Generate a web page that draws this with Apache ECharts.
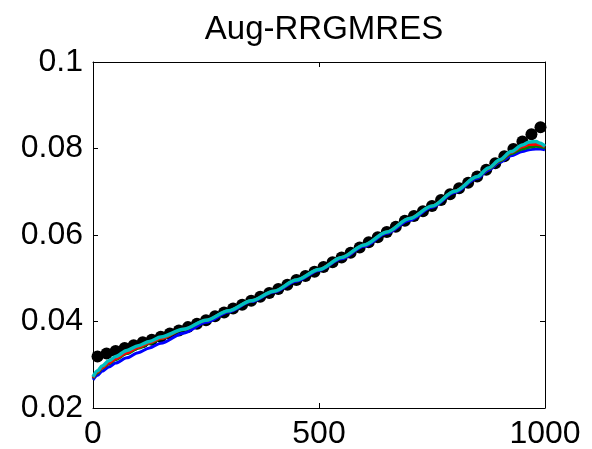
<!DOCTYPE html>
<html>
<head>
<meta charset="utf-8">
<script src="https://cdn.jsdelivr.net/npm/echarts@6/dist/echarts.min.js"></script>
<style>html,body{margin:0;padding:0;background:#fff;}#c{width:592px;height:449px;}</style>
</head>
<body>
<div id="c"></div>
<script>
const titleText = 'Aug-RRGMRES';
const xTicks = [0, 500, 1000];
const yTicks = [0.02, 0.04, 0.06, 0.08, 0.1];

// exact solution (black dots)
const dotX = [10,30,50,70,90,110,130,150,170,190,210,230,250,270,290,310,330,350,370,390,
  410,430,450,470,490,510,530,550,570,590,610,630,650,670,690,710,730,750,770,790,
  810,830,850,870,890,910,930,950,970,990];
const exactY = [0.0319,0.0326,0.0332,0.0339,0.0345,0.0352,0.0358,0.0365,0.0372,0.0379,
  0.0387,0.0395,0.0403,0.0412,0.0421,0.0430,0.0439,0.0448,0.0457,0.0466,
  0.0475,0.0485,0.0496,0.0505,0.0515,0.0526,0.0537,0.0548,0.0559,0.0571,
  0.0583,0.0595,0.0607,0.0619,0.0633,0.0644,0.0655,0.0667,0.0681,0.0694,
  0.0708,0.0721,0.0735,0.0751,0.0766,0.0782,0.0799,0.0816,0.0833,0.0849];

// reconstructions (coloured lines)
const lineX = [0,10,20,35,50,75,100,125,150,200,250,300,350,400,450,500,550,600,650,700,750,800,850,875,900,925,950,965,980,990,1000];
const blueY = [0.0265,0.0276,0.0285,0.0295,0.0304,0.0316,0.0328,0.0339,0.0350,0.0373,0.0398,0.0422,0.0446,0.0468,0.0493,0.0518,0.0545,0.0574,0.0604,0.0634,0.0664,0.0698,0.0731,0.0750,0.0768,0.0783,0.0793,0.0797,0.0799,0.0799,0.0797];
const greenY = [0.0269,0.0281,0.0292,0.0302,0.0312,0.0326,0.0338,0.0349,0.0360,0.0381,0.0403,0.0425,0.0448,0.0470,0.0496,0.0520,0.0548,0.0577,0.0607,0.0638,0.0667,0.0701,0.0734,0.0753,0.0771,0.0788,0.0799,0.0803,0.0805,0.0804,0.0801];
const redY = [0.0270,0.0283,0.0293,0.0304,0.0314,0.0328,0.0340,0.0351,0.0361,0.0382,0.0403,0.0425,0.0448,0.0470,0.0496,0.0520,0.0548,0.0577,0.0607,0.0638,0.0667,0.0701,0.0735,0.0754,0.0773,0.0791,0.0804,0.0809,0.0810,0.0808,0.0804];
const cyanY = [0.0272,0.0286,0.0297,0.0309,0.0319,0.0333,0.0344,0.0354,0.0364,0.0382,0.0403,0.0425,0.0448,0.0470,0.0496,0.0520,0.0548,0.0577,0.0607,0.0638,0.0667,0.0701,0.0735,0.0755,0.0774,0.0793,0.0808,0.0815,0.0816,0.0812,0.0805];

const zip = (xs, ys) => xs.map((x, i) => [x, ys[i]]);
const FONT = '"Liberation Sans", Arial, Helvetica, sans-serif';
const axisColor = '#000';

function xAxisDef(pos, show) {
  return {
    type: 'value', position: pos, min: xTicks[0], max: xTicks[xTicks.length - 1],
    interval: xTicks[1] - xTicks[0],
    axisLine: { show: true, onZero: false, lineStyle: { color: axisColor, width: 1 } },
    axisTick: { show: true, inside: true, length: 5, lineStyle: { color: axisColor } },
    axisLabel: { show: show, color: '#000', fontSize: 32, fontFamily: FONT, margin: 10,
      formatter: v => String(v) },
    splitLine: { show: false }
  };
}
function yAxisDef(pos, show) {
  return {
    type: 'value', position: pos, min: yTicks[0], max: yTicks[yTicks.length - 1],
    interval: 0.02,
    axisLine: { show: true, onZero: false, lineStyle: { color: axisColor, width: 1 } },
    axisTick: { show: true, inside: true, length: 5, lineStyle: { color: axisColor } },
    axisLabel: { show: show, color: '#000', fontSize: 32, fontFamily: FONT, margin: 10,
      formatter: v => String(+v.toFixed(2)) },
    splitLine: { show: false }
  };
}

function lineSeries(name, ys, color, w) {
  return {
    name, type: 'line', data: zip(lineX, ys), xAxisIndex: 0, yAxisIndex: 0,
    showSymbol: false, symbol: 'none', smooth: 0.3, smoothMonotone: 'x',
    lineStyle: { color, width: w }, clip: true, animation: false, silent: true
  };
}

const chart = echarts.init(document.getElementById('c'), null, { renderer: 'canvas' });
chart.setOption({
  animation: false,
  backgroundColor: '#fff',
  title: {
    text: titleText, left: 319, top: 8, textAlign: 'center',
    textStyle: { fontSize: 33, fontWeight: 'normal', color: '#000', fontFamily: FONT }
  },
  grid: { left: 93, top: 62, right: 47, bottom: 41, containLabel: false, outerBoundsMode: 'none' },
  xAxis: [xAxisDef('bottom', true), xAxisDef('top', false)],
  yAxis: [yAxisDef('left', true), yAxisDef('right', false)],
  series: [
    lineSeries('b', blueY, '#0000ff', 3),
    lineSeries('g', greenY, '#008000', 3),
    lineSeries('r', redY, '#ff0000', 3),
    lineSeries('c', cyanY, '#00bfbf', 3.5),
    {
      name: 'exact', type: 'scatter', data: zip(dotX, exactY),
      symbol: 'circle', symbolSize: 12, itemStyle: { color: '#000', opacity: 1 },
      animation: false, silent: true
    }
  ]
});
</script>
</body>
</html>
